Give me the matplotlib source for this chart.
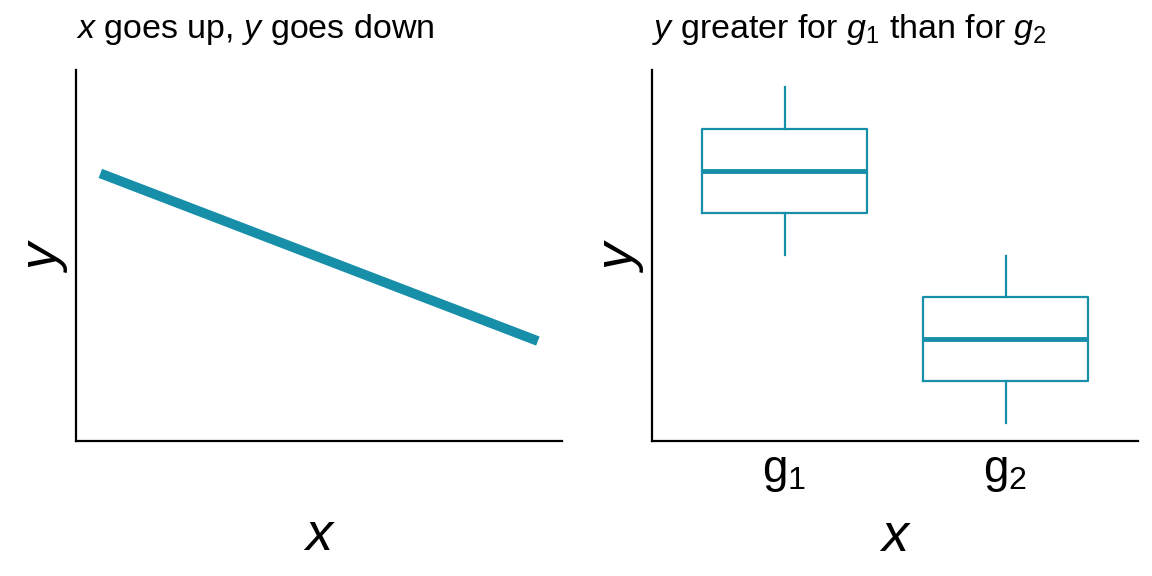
import matplotlib
matplotlib.use("Agg")
import matplotlib.pyplot as plt

plt.rcParams['font.family'] = ['Liberation Sans', 'DejaVu Sans']
plt.rcParams['mathtext.fontset'] = 'custom'
plt.rcParams['mathtext.rm'] = 'Liberation Sans'
plt.rcParams['mathtext.it'] = 'Liberation Sans:italic'
plt.rcParams['mathtext.bf'] = 'Liberation Sans:bold'

COLOR = '#178fa8'

# Left panel: straight line
line_x = [0.5, 9.5]
line_y = [7.22, 2.70]

# Right panel: boxplot stats
groups = ['$\\mathregular{g_1}$', '$\\mathregular{g_2}$']
whislo = [5.01, 0.49]
q1 = [6.15, 1.62]
med = [7.28, 2.75]
q3 = [8.41, 3.88]
whishi = [9.54, 4.99]

fig = plt.figure(figsize=(11.52, 5.76), dpi=100)
ax1 = fig.add_axes([0.066, 0.234, 0.422, 0.644])
ax2 = fig.add_axes([0.566, 0.234, 0.422, 0.644])

ax1.plot(line_x, line_y, color=COLOR, lw=7, solid_capstyle='butt')
ax1.set_xlim(0, 10)
ax1.set_ylim(0, 10)

stats = []
for i in range(len(groups)):
    stats.append(dict(whislo=whislo[i], q1=q1[i], med=med[i], q3=q3[i],
                      whishi=whishi[i], fliers=[], label=groups[i]))
ax2.bxp(stats, positions=[1, 2], widths=0.75, showcaps=False,
        boxprops=dict(color=COLOR, lw=1.6),
        whiskerprops=dict(color=COLOR, lw=1.6),
        medianprops=dict(color=COLOR, lw=3.5))
ax2.set_xlim(0.4, 2.6)
ax2.set_ylim(0, 10)

for ax in (ax1, ax2):
    for s in ('top', 'right'):
        ax.spines[s].set_visible(False)
    for s in ('left', 'bottom'):
        ax.spines[s].set_linewidth(1.6)
        ax.spines[s].set_color('black')
    ax.set_yticks([])
    ax.set_ylabel('$\\it{y}$', fontsize=39, labelpad=4)
    ax.set_xlabel('$\\it{x}$', fontsize=39, labelpad=50 if ax is ax1 else 13)

ax1.set_xticks([])
ax2.tick_params(axis='x', length=0, labelsize=33, pad=6)

ax1.set_title('$\\it{x}$ goes up, $\\it{y}$ goes down', loc='left', fontsize=24.5, pad=23)
ax2.set_title('$\\it{y}$ greater for $g_1$ than for $g_2$', loc='left', fontsize=24.5, pad=23)

fig.savefig('out.png', dpi=100)
